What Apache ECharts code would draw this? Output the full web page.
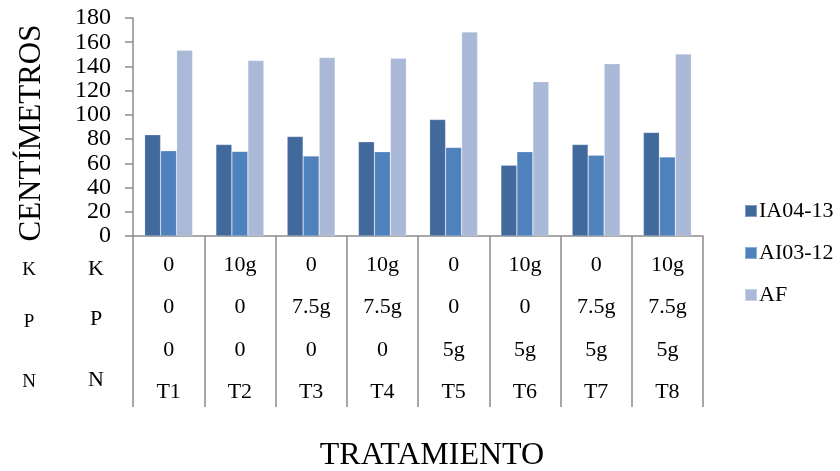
<!DOCTYPE html>
<html>
<head>
<meta charset="utf-8">
<script src="https://cdn.jsdelivr.net/npm/echarts@6/dist/echarts.min.js"></script>
<style>
  html, body { margin: 0; padding: 0; background: #fff; }
  #chart { width: 840px; height: 471px; }
</style>
</head>
<body>
<div id="chart"></div>
<script>
// Treatments and their fertilizer doses (K, P, N rows of the table under the axis)
const treatments = ['T1', 'T2', 'T3', 'T4', 'T5', 'T6', 'T7', 'T8'];
const kDose = ['0', '10g', '0', '10g', '0', '10g', '0', '10g'];
const pDose = ['0', '0', '7.5g', '7.5g', '0', '0', '7.5g', '7.5g'];
const nDose = ['0', '0', '0', '0', '5g', '5g', '5g', '5g'];
const rowNames = ['K', 'P', 'N'];

// Plant height (cm) per treatment
const seriesNames = ['IA04-13', 'AI03-12', 'AF'];
const ia0413 = [83.6, 75.6, 82.2, 77.8, 96.2, 58.4, 75.6, 85.5];
const ai0312 = [70.4, 69.9, 66.0, 69.6, 73.1, 69.6, 66.8, 65.2];
const af = [153.4, 145.0, 147.4, 146.8, 168.5, 127.4, 142.2, 150.4];

const yTicks = { min: 0, max: 180, interval: 20 };

const FONT = '"Liberation Serif", "Times New Roman", serif';
const AXIS_GRAY = '#8c8c8c';
const colors = ['#41699C', '#4F81BD', '#AAB9D7'];

const chart = echarts.init(document.getElementById('chart'), null, { renderer: 'canvas' });

// One hidden-line category axis per table row; the first carries the bars and the cell borders
function rowAxis(data, margin, extra) {
  return Object.assign({
    type: 'category',
    data: data,
    position: 'bottom',
    axisLine: { show: false },
    axisTick: { show: false },
    axisLabel: {
      interval: 0,
      margin: margin,
      verticalAlign: 'middle',
      fontFamily: FONT,
      fontSize: 22,
      color: '#000'
    },
    splitLine: { show: false }
  }, extra || {});
}

const option = {
  animation: false,
  backgroundColor: '#fff',
  color: colors,
  grid: { left: 133, right: 137, top: 18, bottom: 235, containLabel: false },
  legend: {
    orient: 'vertical',
    left: 739,
    top: 195,
    itemWidth: 12,
    itemHeight: 12,
    itemGap: 20,
    icon: 'rect',
    textStyle: { fontFamily: FONT, fontSize: 22, color: '#000', padding: [0, 0, 0, -3] },
    data: seriesNames
  },
  xAxis: [
    rowAxis(kDose, 29, {
      axisLine: { show: true, lineStyle: { color: AXIS_GRAY, width: 1.5 } },
      axisTick: { show: true, length: 171, lineStyle: { color: AXIS_GRAY, width: 1.5 } }
    }),
    rowAxis(pDose, 71),
    rowAxis(nDose, 114),
    rowAxis(treatments, 156)
  ],
  yAxis: {
    type: 'value',
    min: yTicks.min,
    max: yTicks.max,
    interval: yTicks.interval,
    name: 'CENTÍMETROS',
    nameLocation: 'middle',
    nameGap: 86,
    nameTextStyle: { fontFamily: FONT, fontSize: 31, color: '#000', padding: [0, 12, 0, 0] },
    axisLine: { show: true, lineStyle: { color: AXIS_GRAY, width: 1.5 } },
    axisTick: { show: true, length: 8, lineStyle: { color: AXIS_GRAY, width: 1.5 } },
    axisLabel: { margin: 22, fontFamily: FONT, fontSize: 24, color: '#000' },
    splitLine: { show: false }
  },
  series: [ia0413, ai0312, af].map((vals, i) => ({
    name: seriesNames[i],
    type: 'bar',
    xAxisIndex: 0,
    data: vals,
    barWidth: 16,
    barGap: '0%',
    itemStyle: { color: colors[i], borderColor: 'rgba(255,255,255,0.35)', borderWidth: 0.6 }
  })),
  graphic: [
    // Row names of the dose table, shown twice at the left
    ...rowNames.map((t, i) => ({
      type: 'text',
      x: 29,
      y: [270, 322, 382][i],
      style: { text: t, fontFamily: FONT, fontSize: 19, fill: '#000', align: 'center', verticalAlign: 'middle' }
    })),
    ...rowNames.map((t, i) => ({
      type: 'text',
      x: 96,
      y: [269, 319, 380][i],
      style: { text: t, fontFamily: FONT, fontSize: 22, fill: '#000', align: 'center', verticalAlign: 'middle' }
    })),
    {
      type: 'text',
      x: 432,
      y: 456,
      style: {
        text: 'TRATAMIENTO',
        fontFamily: FONT,
        fontSize: 32,
        fill: '#000',
        align: 'center',
        verticalAlign: 'middle'
      }
    }
  ]
};

chart.setOption(option);
</script>
</body>
</html>
